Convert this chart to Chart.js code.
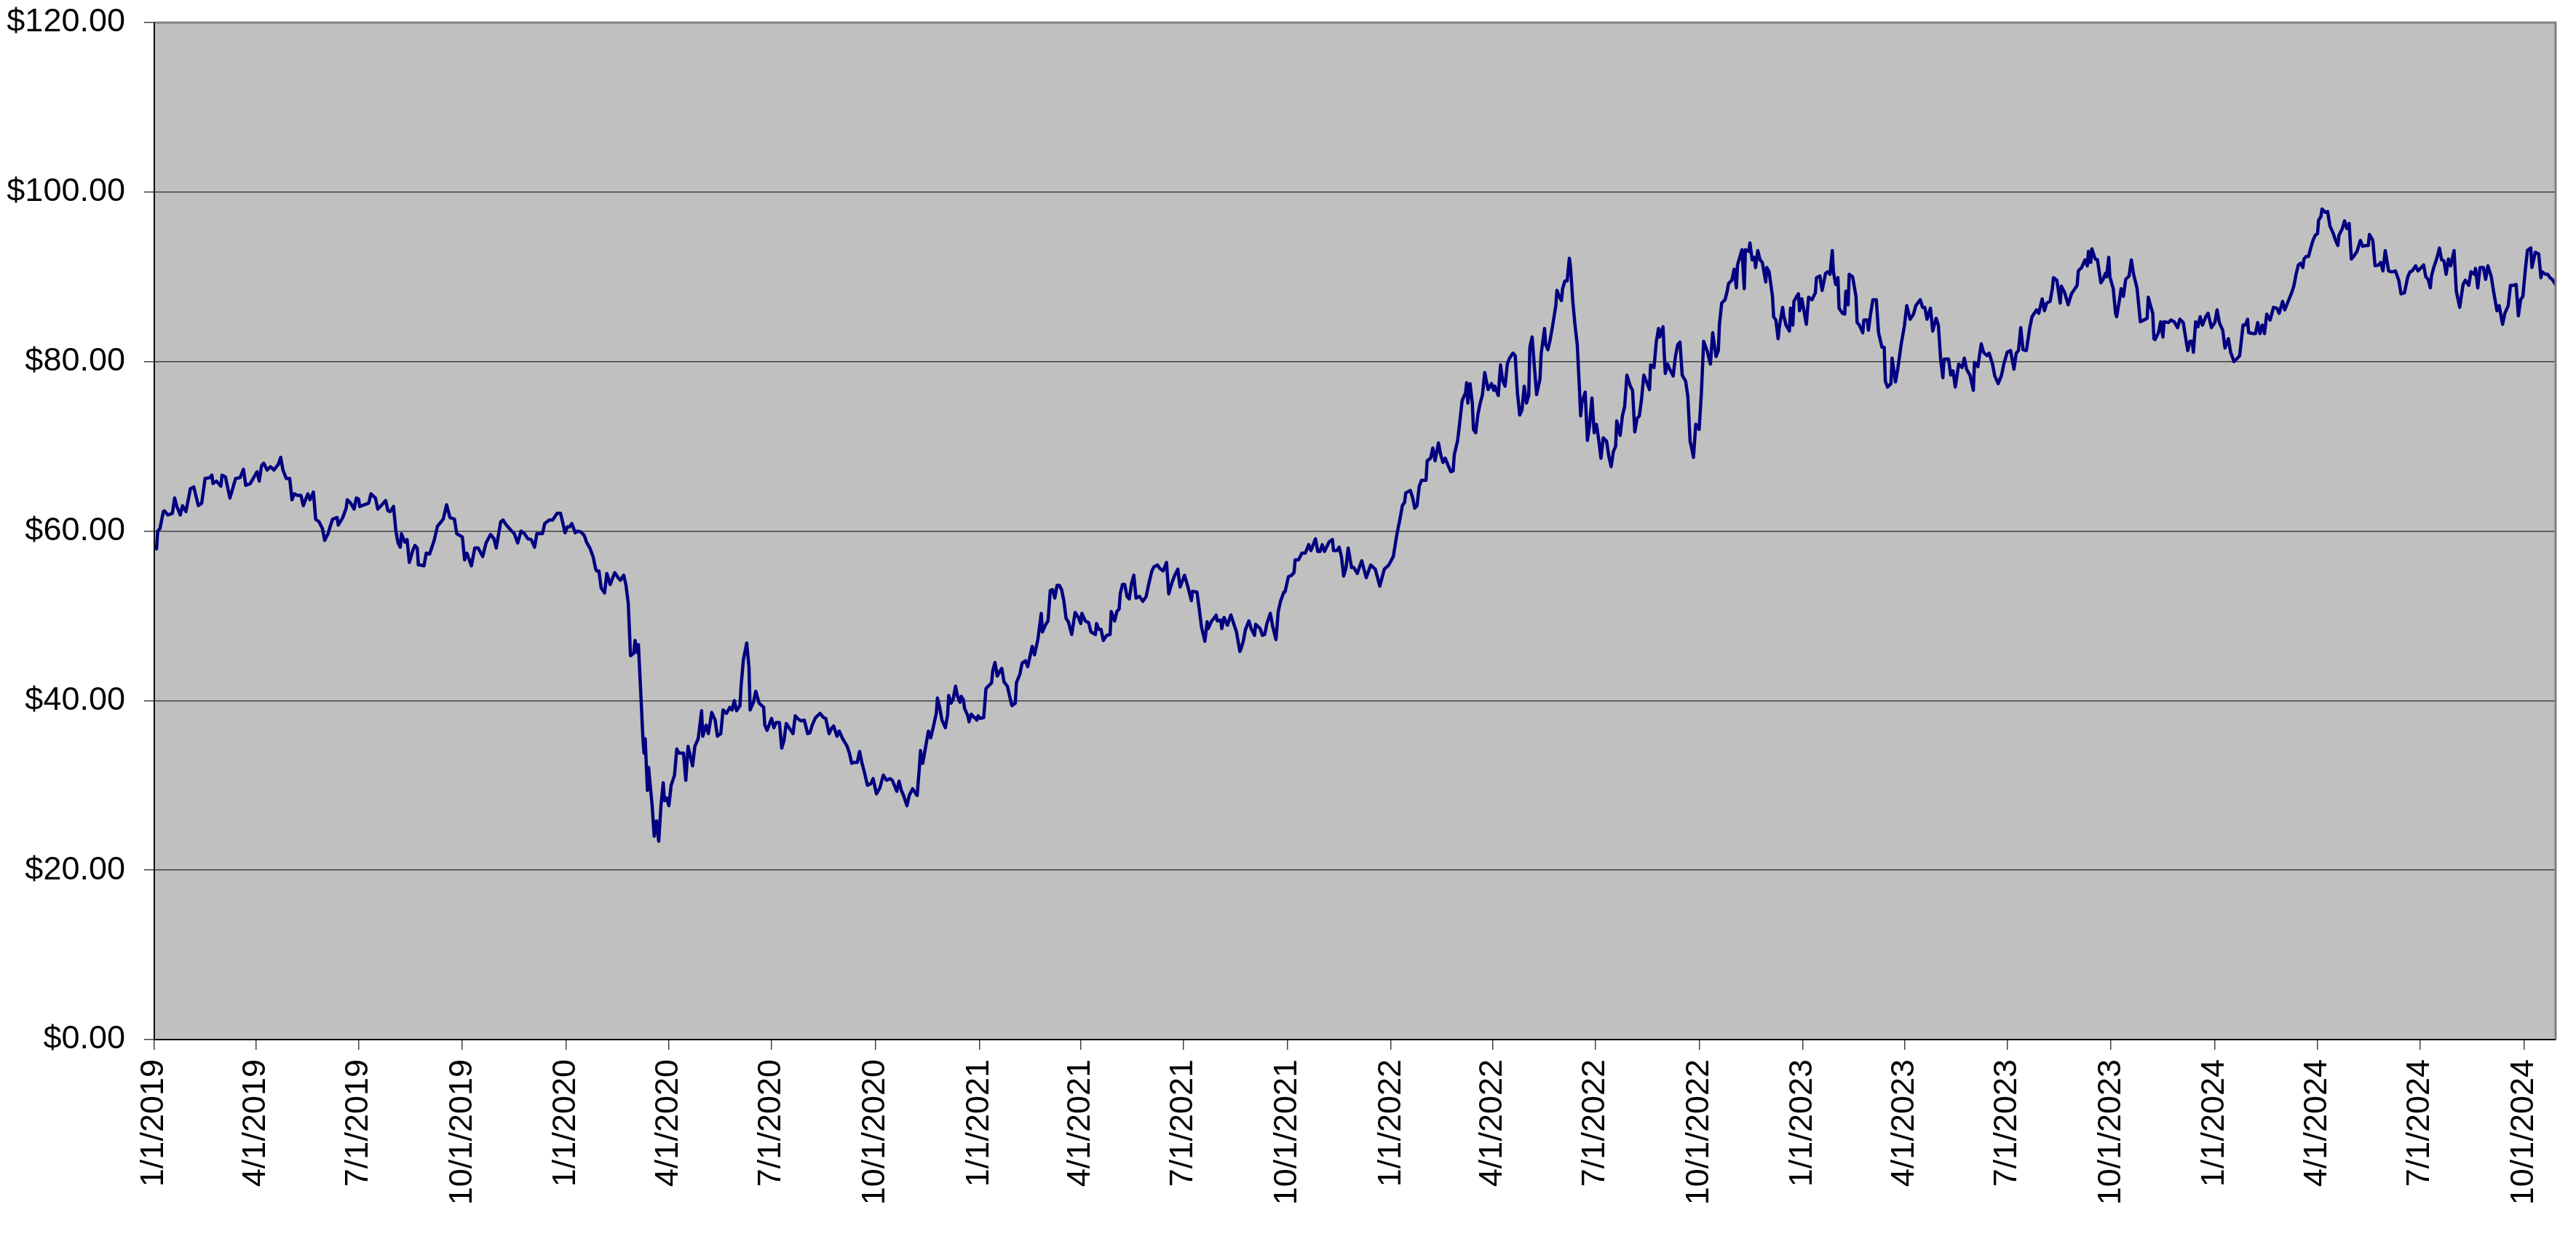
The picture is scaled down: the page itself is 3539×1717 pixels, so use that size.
<!DOCTYPE html>
<html>
<head>
<meta charset="utf-8">
<script src="https://cdn.jsdelivr.net/npm/chart.js@4.4.1/dist/chart.umd.min.js"></script>
<style>
html,body{margin:0;padding:0;background:#ffffff;}
#wrap{width:3539px;height:1717px;position:relative;}
</style>
</head>
<body>
<div id="wrap"><canvas id="c" width="3539" height="1717"></canvas></div>
<script>
// Quarter ticks (Excel date serials) and their labels
const tickSerials = [43466,43556,43647,43739,43831,43922,44013,44105,44197,44287,44378,44470,
                     44562,44652,44743,44835,44927,45017,45108,45200,45292,45383,45474,45566];
const tickLabels = ['1/1/2019','4/1/2019','7/1/2019','10/1/2019','1/1/2020','4/1/2020','7/1/2020','10/1/2020',
                    '1/1/2021','4/1/2021','7/1/2021','10/1/2021','1/1/2022','4/1/2022','7/1/2022','10/1/2022',
                    '1/1/2023','4/1/2023','7/1/2023','10/1/2023','1/1/2024','4/1/2024','7/1/2024','10/1/2024'];
const yTickStep = 20;

// Dates as Excel serial numbers (1/1/2019 = 43466)
const dateSerials = [
43467,43468,43469,43471,43474,43475,43478,43482,43484,43486,
43489,43491,43494,43498,43501,43505,43508,43511,43515,43517,
43518,43521,43525,43526,43529,43533,43538,43542,43545,43547,
43551,43554,43557,43559,43561,43563,43566,43569,43572,43576,
43578,43580,43583,43586,43588,43590,43593,43596,43598,43602,
43604,43607,43609,43612,43615,43617,43620,43622,43624,43628,
43629,43633,43636,43637,43640,43643,43645,43647,43648,43652,
43656,43658,43662,43664,43667,43671,43673,43675,43678,43680,
43682,43684,43685,43688,43690,43692,43695,43697,43699,43700,
43702,43705,43707,43710,43714,43717,43719,43722,43725,43728,
43732,43734,43739,43741,43743,43747,43750,43753,43757,43760,
43764,43767,43769,43773,43775,43778,43782,43785,43788,43791,
43794,43797,43800,43803,43805,43810,43812,43816,
43819,43823,43826,43830,43832,43834,43836,43839,43841,43844,
43847,43849,43852,43855,43857,43858,43860,43862,43865,43867,
43870,43874,43877,43879,43882,43884,43886,43888,43891,43892,
43894,43895,43897,43899,43900,43901,43903,43904,43907,43909,
43911,43913,43915,43917,43918,43920,43922,43924,43927,43929,
43931,43935,43937,43939,43943,43945,43948,43951,43952,43955,
43957,43960,43963,43965,43968,43970,43973,43976,43978,43980,
43982,43985,43986,43988,43991,43993,43994,43997,43999,44002,
44006,44007,44009,44013,44015,44017,44020,44022,44024,44026,
44029,44032,44034,44036,44039,44042,44045,44047,44049,44052,
44056,44059,44061,44064,44066,44068,44071,44073,44076,44080,
44082,44084,44086,44089,44091,44093,44095,44098,44101,44103,
44106,44109,44112,44115,44118,44120,44124,44126,44128,44130,
44133,44135,44138,44142,44144,44145,44147,44150,44152,44154,
44156,44159,44160,44162,44164,44167,44169,44170,44172,
44174,44176,44178,44180,44181,44183,44184,44187,44188,44190,
44192,44195,44196,44198,44201,44203,44205,44208,44209,44211,
44213,44215,44217,44219,44222,44224,44226,44229,44230,44233,
44235,44238,44240,44242,44244,44246,44249,44252,44253,44256,
44258,44260,44262,44264,44266,44268,44270,44272,44274,44276,
44279,44282,44285,44287,44288,44291,44294,44296,44300,44301,
44303,44305,44307,44310,44313,44314,44317,44319,44321,44322,
44324,44326,44328,44330,44332,44334,44336,44339,44342,44345,
44347,44350,44352,44355,44357,44360,44363,44365,44368,44370,
44373,44375,44379,44382,44385,44386,44390,44392,44394,44397,
44399,44400,44403,44405,44407,44408,44411,44412,44414,44417,
44420,44422,44425,44428,44429,44431,44433,44436,44438,44441,
44442,44446,44448,44450,44452,44455,44457,44460,44462,44464,
44467,44468,44471,44474,44476,44477,44480,44483,44486,44489,
44491,44495,44497,44499,44501,44503,44507,44510,44511,44514,
44516,44518,44520,44522,44524,44527,44529,
44532,44536,44540,44544,44548,44552,44556,44560,44564,44567,44570,
44572,44574,44575,44579,44581,44583,44585,44587,44589,44593,
44594,44597,44599,44601,44604,44606,44608,44610,44613,44615,
44617,44618,44621,44623,44625,44628,44629,44630,44632,44634,
44635,44637,44639,44641,44643,44645,44648,44651,44653,44654,
44657,44659,44661,44663,44665,44667,44670,44672,44674,44676,
44678,44680,44682,44684,44685,44687,44689,44691,44694,44695,
44698,44699,44701,44703,44705,44708,44709,44711,44713,44714,
44716,44718,44720,44721,44723,44725,44727,44729,44730,44731,
44734,44736,44738,44740,44742,44744,44746,44748,44750,44753,
44755,44757,44759,44761,44762,44765,44767,44769,44771,44774,
44776,44778,44780,44782,44784,44786,44789,44791,44792,44795,
44797,44799,44800,44803,44804,44805,44807,44809,44812,44814,
44816,44818,44820,44823,44825,44827,44829,44830,44832,44835,
44837,44839,44842,44845,44847,44850,44852,44853,44855,44858,
44860,44861,44864,44866,44868,44869,44873,44875,44876,44879,
44880,44882,
44884,44885,44887,44889,44891,44894,44895,44897,44900,44901,
44903,44905,44906,44909,44910,44912,44915,44916,44918,44919,
44921,44923,44924,44926,44928,44930,44932,44935,44938,44939,
44942,44944,44947,44949,44951,44953,44954,44956,44958,44959,
44962,44964,44965,44967,44968,44971,44974,44975,44977,44980,
44981,44984,44985,44987,44989,44992,44994,44997,44999,45000,
45002,45005,45006,45009,45011,45014,45017,45019,45022,45025,
45027,45031,45033,45035,45037,45040,45042,45045,45047,45049,
45051,45052,45056,45058,45060,45062,45065,45068,45070,45072,
45075,45078,45079,45082,45085,45087,45090,45092,45095,45097,
45100,45103,45105,45108,45111,45114,45116,45118,45120,45122,
45125,45128,45130,45134,45136,45139,45141,45143,45146,45148,
45149,45152,45155,45156,45159,45162,45165,45168,45170,45171,
45174,45177,45179,45180,45182,45183,45186,45188,45191,45193,
45195,45196,45198,45199,45202,45204,45205,45208,45209,45211,
45213,45216,45218,45220,45223,45224,45226,45229,45232,45233,
45235,45237,45238,
45239,45242,45244,45246,45247,45251,45253,45256,45259,45261,
45264,45266,45268,45270,45272,45273,45275,45277,45279,45281,
45284,45286,45289,45292,45294,45296,45299,45301,45304,45306,
45309,45312,45314,45317,45319,45321,45322,45326,45328,45330,
45332,45334,45336,45338,45341,45344,45347,45349,45352,45354,
45357,45360,45362,45364,45366,45368,45370,45371,45373,45375,
45377,45379,45381,45383,45384,45386,45387,45390,45392,45394,
45397,45399,45401,45402,45405,45407,45409,45411,45413,45415,
45418,45421,45423,45426,45428,45429,45432,45434,45437,45439,
45441,45443,45446,45448,45450,45452,45455,45457,45460,45463,
45465,45467,45470,45472,45475,45477,45479,45481,45483,45484,
45486,45489,45491,45493,45495,45497,45499,45501,45504,45506,
45509,45512,45514,45517,45519,45522,45523,45525,45527,45530,
45532,45534,45537,45539,45542,45544,45547,45549,45552,45554,
45557,45559,45561,45563,45565,45567,45569,45572,45573,45576,
45579,45581,45582,45585,45587,45589,45591,45594
];

const prices = [
58.3,57.9,60.0,60.3,62.3,62.4,61.9,62.1,63.9,62.9,
61.9,63.0,62.3,65.0,65.2,63.0,63.3,66.2,66.3,66.6,
65.6,65.9,65.3,66.6,66.4,63.9,66.2,66.3,67.3,65.4,
65.6,66.3,67.0,65.9,67.7,68.0,67.2,67.6,67.2,67.9,
68.7,67.2,66.2,66.2,63.7,64.4,64.2,64.2,63.0,64.4,
63.7,64.6,61.4,61.1,60.3,58.9,59.7,60.6,61.4,61.6,
60.7,61.6,62.7,63.7,63.3,62.6,63.9,63.8,62.9,63.1,
63.3,64.4,63.9,62.6,63.0,63.6,62.4,62.3,62.9,60.1,
58.6,58.1,59.7,58.7,59.0,56.3,57.7,58.3,58.0,56.0,
56.0,55.9,57.4,57.3,58.9,60.6,60.9,61.4,63.1,61.6,
61.4,59.7,59.3,56.6,57.4,55.9,58.0,58.0,57.0,58.6,
59.6,59.1,58.0,61.1,61.3,60.7,60.1,59.7,58.6,60.0,
59.7,59.1,59.0,58.1,59.7,59.7,60.9,61.3,
61.3,62.1,62.1,59.8,60.5,60.5,60.9,59.8,60.0,59.9,
59.5,58.7,58.0,56.9,55.6,55.3,55.3,53.3,52.7,55.0,
53.7,55.1,54.5,54.2,54.8,53.6,51.5,45.3,45.6,47.1,
45.7,46.6,41.2,35.5,33.8,35.5,29.4,32.1,27.9,24.0,
25.8,23.4,27.6,30.3,28.2,28.5,27.6,30.0,31.2,34.3,
33.8,33.8,30.6,34.6,32.3,34.6,35.5,38.8,35.8,37.1,
36.1,38.6,37.7,35.8,36.1,38.9,38.5,39.2,38.9,40.0,
38.8,39.4,41.7,44.8,46.8,43.9,38.9,39.8,41.1,39.7,
39.2,37.1,36.5,37.9,36.8,37.4,37.4,34.4,35.3,37.3,
36.7,36.1,38.2,37.9,37.6,37.7,36.1,36.2,37.1,38.0,
38.5,38.0,37.9,36.1,36.7,37.0,35.8,36.4,35.5,34.6,
33.8,32.6,32.7,32.7,34.0,32.7,31.7,30.0,30.2,30.8,
29.0,29.7,31.2,30.6,30.8,30.6,29.3,30.5,29.4,28.8,
27.6,28.8,29.6,28.8,32.1,34.1,32.6,34.9,36.4,35.6,
36.7,38.5,40.3,39.2,37.7,36.8,38.3,40.6,39.7,
40.2,41.7,40.4,39.8,40.5,40.1,39.1,38.2,37.5,38.4,
38.1,37.7,38.2,37.9,38.0,41.4,41.7,42.1,43.5,44.5,
42.9,43.4,43.8,42.2,41.7,40.5,39.4,39.7,42.1,43.1,
44.4,44.7,44.0,45.2,46.4,45.4,47.2,50.3,48.1,49.0,
49.4,53.0,53.1,52.1,53.6,53.6,53.1,51.8,49.7,49.3,
47.8,50.4,49.8,49.1,50.3,49.4,49.2,48.1,47.8,49.1,
48.4,48.4,47.1,47.7,47.8,50.5,49.4,50.5,50.8,52.6,
53.7,53.7,52.3,52.0,53.8,54.8,52.1,52.3,51.7,52.3,
53.6,55.3,55.8,56.0,55.6,55.3,56.3,52.6,54.0,54.7,
55.5,53.4,54.8,53.4,51.8,52.9,52.8,50.8,48.7,47.0,
49.3,48.5,49.4,49.7,50.1,49.4,49.5,48.5,49.8,48.9,
50.1,49.3,48.1,45.8,46.1,47.0,48.4,49.4,48.5,47.7,
49.0,48.5,47.7,47.8,49.1,50.3,48.8,47.2,50.5,51.7,
52.8,52.8,54.6,54.8,55.1,56.6,56.6,57.4,57.4,58.4,
57.7,59.1,57.6,57.6,58.4,57.6,58.7,59.0,57.7,57.7,
58.1,57.0,54.7,55.6,58.0,55.7,55.7,
55.0,56.5,54.5,56.0,55.5,53.5,55.5,56.0,57.0,59.5,61.5,
63.0,63.4,64.5,64.8,64.0,62.7,63.0,65.3,66.0,66.0,
68.3,68.6,69.8,68.3,70.4,69.0,68.1,68.6,67.6,67.0,
67.1,69.0,70.7,73.0,75.4,76.3,77.5,75.1,77.4,75.1,
72.0,71.6,73.8,75.1,76.1,78.7,76.7,77.4,76.6,77.1,
76.0,79.6,77.7,77.1,79.7,80.4,81.0,80.7,76.3,73.7,
74.3,77.1,75.1,76.0,81.7,82.9,79.4,76.1,78.0,80.9,
83.9,82.0,81.4,82.6,84.1,86.6,88.4,87.7,87.2,88.6,
89.5,89.5,92.2,91.2,87.2,84.3,82.0,76.6,73.6,75.1,
76.4,70.7,72.6,75.7,71.6,72.6,70.8,68.6,71.0,70.6,
68.8,67.6,69.4,70.0,73.0,71.3,73.6,74.7,78.4,77.1,
76.6,71.7,73.3,73.6,75.6,78.4,77.4,76.7,79.6,79.3,
82.3,83.9,82.9,84.1,81.1,78.6,79.7,79.1,78.3,80.6,
82.0,82.3,78.4,77.7,75.9,70.6,69.4,68.7,72.6,72.0,
76.3,82.4,81.3,79.7,83.4,80.6,81.3,84.4,86.9,87.3,
88.4,89.2,89.6,90.9,88.7,91.4,93.2,88.6,93.2,93.0,
94.0,92.0,
92.3,91.1,93.1,92.0,91.7,89.4,91.1,90.6,87.7,85.3,
84.9,82.7,84.0,86.4,85.4,84.3,83.6,86.3,84.3,87.1,
87.6,88.0,86.0,87.4,85.9,84.4,87.6,87.3,88.1,89.9,
90.1,88.4,90.4,90.6,90.3,93.1,90.6,89.1,89.9,86.3,
85.7,85.6,88.3,86.7,90.3,90.0,87.7,84.6,84.3,83.4,
84.9,84.9,83.7,85.7,87.3,87.3,83.4,81.7,81.7,77.7,
77.0,77.4,80.4,77.6,79.1,82.0,84.3,86.6,85.0,85.6,
86.6,87.3,86.4,86.4,85.0,86.3,83.6,85.1,84.3,80.3,
78.1,80.3,80.3,78.4,78.9,77.0,79.7,79.3,80.4,79.1,
78.4,76.6,79.9,79.4,82.1,81.1,80.7,81.0,79.7,78.3,
77.4,78.4,79.7,81.1,81.3,79.1,81.0,81.3,84.0,81.4,
81.3,84.0,85.3,86.1,85.7,87.4,86.0,86.9,87.1,88.6,
89.9,89.6,86.9,88.9,88.1,86.7,88.0,88.6,89.0,90.7,
91.1,92.0,91.3,93.0,91.7,93.3,92.1,92.0,89.3,89.7,
90.4,90.0,92.3,90.0,88.6,85.7,85.3,87.7,88.6,87.7,
89.7,90.1,92.0,90.3,88.7,87.4,84.7,84.9,85.1,87.6,
86.6,85.7,82.7,
82.6,83.4,84.7,82.9,84.7,84.6,84.9,84.7,84.0,85.0,
84.6,82.9,81.3,82.4,82.4,81.1,84.7,84.1,85.3,84.3,
85.3,85.7,84.0,84.6,86.1,84.6,83.7,81.6,82.7,81.1,
80.0,80.4,80.7,84.3,84.3,85.0,83.4,83.3,83.3,84.6,
83.3,84.3,83.3,85.6,84.9,86.4,86.3,85.7,87.1,86.1,
87.1,88.1,88.9,90.3,91.4,91.6,91.1,92.1,92.4,92.4,
93.4,94.3,94.9,95.1,96.7,97.1,98.0,97.6,97.7,96.0,
95.1,94.3,93.7,94.9,95.7,96.6,95.7,96.3,92.1,92.4,
93.0,94.3,93.6,93.7,93.7,95.0,94.3,91.3,91.4,91.7,
90.7,93.1,90.7,90.6,90.6,90.7,89.6,88.0,88.1,90.0,
90.6,90.7,91.3,90.7,91.1,91.4,90.0,89.7,88.7,90.1,
91.1,92.3,93.4,92.0,91.9,90.3,92.1,91.3,93.1,88.3,
86.4,89.1,89.6,89.0,90.6,90.3,91.0,88.7,91.1,91.1,
89.7,91.3,90.0,88.3,86.0,86.6,84.4,85.7,86.6,89.0,
89.0,89.1,85.4,87.3,87.7,90.6,93.1,93.4,91.1,92.9,
92.7,89.9,90.6,90.3,90.3,89.9,89.7,89.1
];

const FONT = "'Liberation Sans', Arial, Helvetica, sans-serif";

const plotFrame = {
  id: 'plotFrame',
  beforeDraw(chart) {
    const {ctx, chartArea: a} = chart;
    ctx.save();
    ctx.fillStyle = '#C0C0C0';
    ctx.fillRect(a.left, a.top, a.right - a.left, a.bottom - a.top);
    ctx.restore();
  },
  afterDraw(chart) {
    const {ctx, chartArea: a} = chart;
    ctx.save();
    ctx.strokeStyle = '#808080';
    ctx.lineWidth = 3;
    ctx.beginPath();
    ctx.moveTo(a.left, a.top);
    ctx.lineTo(a.right, a.top);
    ctx.lineTo(a.right, a.bottom);
    ctx.stroke();
    ctx.strokeStyle = '#000000';
    ctx.lineWidth = 1.5;
    ctx.beginPath();
    ctx.moveTo(a.left, a.top);
    ctx.lineTo(a.left, a.bottom);
    ctx.lineTo(a.right, a.bottom);
    ctx.stroke();
    ctx.restore();
  }
};

new Chart(document.getElementById('c'), {
  type: 'line',
  data: {
    datasets: [{
      data: dateSerials.map((d, i) => ({x: d, y: prices[i]})),
      borderColor: '#000080',
      borderWidth: 4.5,
      pointRadius: 0,
      tension: 0,
      fill: false,
      borderJoinStyle: 'round',
      borderCapStyle: 'round'
    }]
  },
  options: {
    responsive: false,
    animation: false,
    devicePixelRatio: 1,
    layout: {padding: {top: 31, right: 28, left: 0, bottom: 0}},
    plugins: {legend: {display: false}, tooltip: {enabled: false}},
    scales: {
      x: {
        type: 'linear',
        min: tickSerials[0],
        max: dateSerials[dateSerials.length - 1],
        afterBuildTicks: s => { s.ticks = tickSerials.map(v => ({value: v})); },
        afterFit: s => { s.height = 289; s.paddingLeft = 0; s.paddingRight = 0; },
        grid: {drawOnChartArea: false, drawTicks: true, tickLength: 14, color: '#404040', lineWidth: 1.5},
        border: {display: true, color: '#000000', width: 1.5},
        ticks: {
          autoSkip: false, maxRotation: 90, minRotation: 90, padding: 13, color: '#000000',
          font: {family: FONT, size: 45},
          callback: v => tickLabels[tickSerials.indexOf(v)]
        }
      },
      y: {
        min: 0, max: 120,
        afterFit: s => { s.width = 212; s.paddingTop = 0; s.paddingBottom = 0; },
        grid: {color: '#404040', lineWidth: 1.5, drawTicks: true, tickLength: 14},
        border: {display: true, color: '#000000', width: 1.5},
        ticks: {
          stepSize: yTickStep, padding: 26, color: '#000000',
          font: {family: FONT, size: 45},
          callback: v => '$' + Number(v).toFixed(2)
        }
      }
    }
  },
  plugins: [plotFrame]
});
</script>
</body>
</html>
